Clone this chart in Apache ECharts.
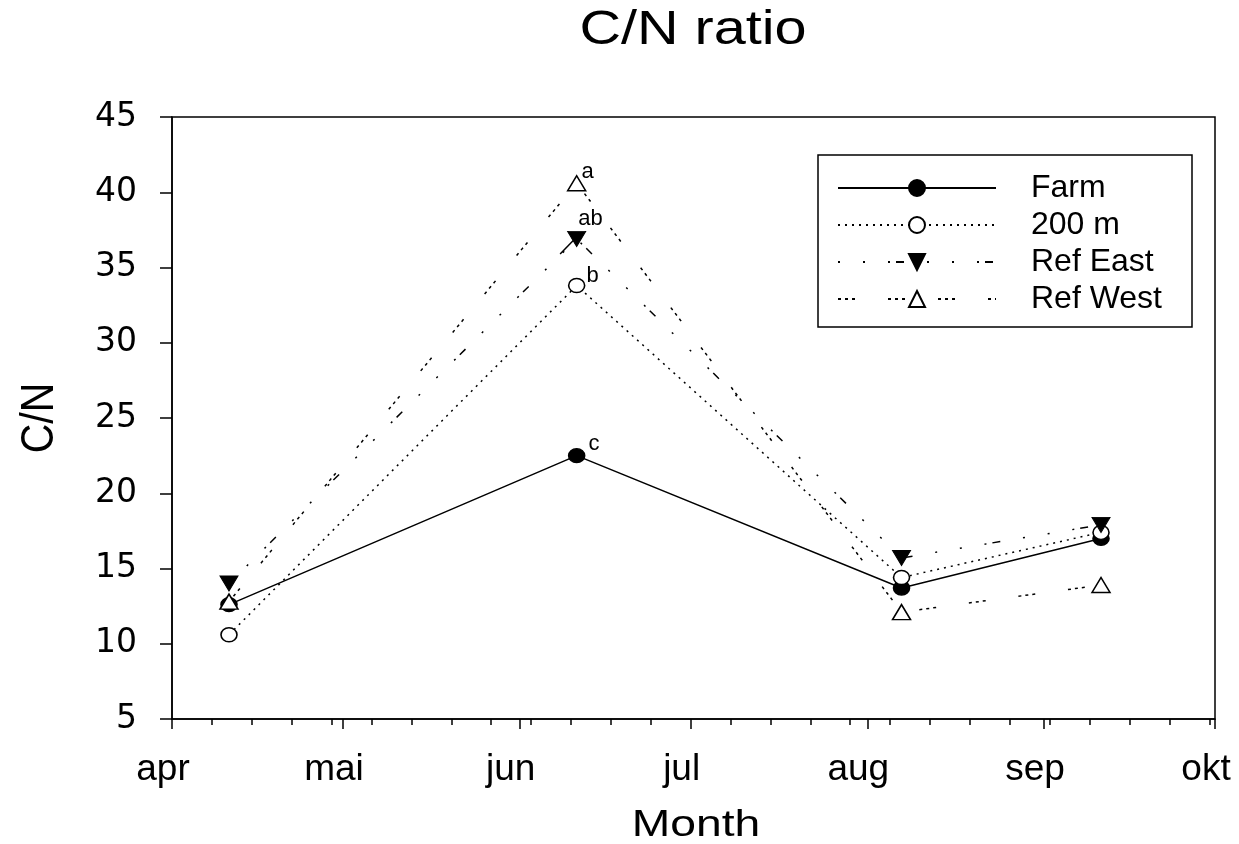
<!DOCTYPE html>
<html>
<head>
<meta charset="utf-8">
<script src="https://cdn.jsdelivr.net/npm/echarts@6/dist/echarts.min.js"></script>
<style>html,body{margin:0;padding:0;background:#fff}#c{width:1239px;height:844px}</style>
</head>
<body>
<div id="c"></div>
<script>
// days since 1 April
const sampleDays = [10, 71, 128, 163];
const farm = [12.6, 22.5, 13.7, 17.0];
const m200 = [10.6, 33.8, 14.4, 17.4];
const refEast = [14.0, 36.9, 15.7, 17.9];
const refWest = [12.8, 40.6, 12.1, 13.9];
const sigLetters = { farm: 'c', m200: 'b', refEast: 'ab', refWest: 'a' };
const monthStarts = [0, 30, 61, 91, 122, 153, 183];
const monthLabels = ['apr', 'mai', 'jun', 'jul', 'aug', 'sep', 'okt'];
const weekTicks = [];
for (let d = 0; d <= 183; d += 7) weekTicks.push(d);
const titleText = 'C/N ratio';
const xName = 'Month';
const yName = 'C/N';

const FONT = 'Liberation Sans, Arial, sans-serif';
const peakIdx = 1;

function mk(vals, letter, off) {
  return vals.map((v, i) => {
    const item = { value: [sampleDays[i], v] };
    if (i === peakIdx) {
      item.label = { show: true, formatter: letter, position: 'right', offset: off,
        color: '#000', fontSize: 22, fontFamily: FONT };
    }
    return item;
  });
}

const chart = echarts.init(document.getElementById('c'), null, { renderer: 'canvas' });
chart.setOption({
  backgroundColor: '#fff',
  animation: false,
  graphic: [
    { type: 'text', x: 693, y: 31, scaleX: 1.2, silent: true,
      style: { text: titleText, fontSize: 48, fontFamily: FONT, fill: '#000', align: 'center', verticalAlign: 'middle' } },
    { type: 'text', x: 696, y: 826, scaleX: 1.25, silent: true,
      style: { text: xName, fontSize: 37, fontFamily: FONT, fill: '#000', align: 'center', verticalAlign: 'middle' } },
    { type: 'text', x: 40, y: 418, rotation: Math.PI / 2, scaleY: 1.12, silent: true,
      style: { text: yName, fontSize: 41, fontFamily: FONT, fill: '#000', align: 'center', verticalAlign: 'middle' } }
  ],
  grid: { left: 172, right: 24, top: 117, bottom: 125, show: true, borderColor: '#000', borderWidth: 1.5, backgroundColor: 'transparent' },
  legend: {
    left: 818, top: 155, orient: 'vertical',
    data: ['Farm', '200 m', 'Ref East', 'Ref West'],
    itemWidth: 158, itemHeight: 20, itemGap: 5,
    padding: [17, 30, 12, 19],
    borderColor: '#000', borderWidth: 1.5,
    textStyle: { fontSize: 32, color: '#000', fontFamily: FONT, lineHeight: 30, padding: [0, 0, 0, 30] },
    selectedMode: false
  },
  xAxis: [
    {
      type: 'value', min: 0, max: 183,
      axisLine: { show: true, lineStyle: { color: '#000', width: 1.5 } },
      axisTick: { show: true, customValues: monthStarts, length: 10, lineStyle: { color: '#000', width: 1.5 } },
      axisLabel: { show: true, customValues: monthStarts, margin: 32, fontSize: 37, color: '#000', fontFamily: FONT,
        padding: [0, 18, 0, 0],
        formatter: v => monthLabels[monthStarts.indexOf(v)] },
      splitLine: { show: false }
    },
    {
      type: 'value', min: 0, max: 183, position: 'bottom',
      axisLine: { show: false },
      axisTick: { show: true, customValues: weekTicks, length: 6, lineStyle: { color: '#000', width: 1.5 } },
      axisLabel: { show: false },
      splitLine: { show: false }
    }
  ],
  yAxis: {
    type: 'value', min: 5, max: 45, interval: 5,
    axisLine: { show: true, lineStyle: { color: '#000', width: 1.5 } },
    axisTick: { show: true, length: 12, lineStyle: { color: '#000', width: 1.5 } },
    axisLabel: { fontSize: 33, color: '#000', margin: 35, fontFamily: 'DejaVu Sans, sans-serif' },
    splitLine: { show: false }
  },
  series: [
    {
      name: 'Farm', type: 'line', data: mk(farm, sigLetters.farm, [-2, -12]),
      symbol: 'circle', symbolSize: [16, 14],
      itemStyle: { color: '#000', borderColor: '#000', borderWidth: 1.5 },
      lineStyle: { color: '#000', width: 1.5, type: 'solid' }
    },
    {
      name: '200 m', type: 'line', data: mk(m200, sigLetters.m200, [-4, -10]),
      symbol: 'circle', symbolSize: [16, 14],
      itemStyle: { color: '#fff', borderColor: '#000', borderWidth: 1.5 },
      lineStyle: { color: '#000', width: 1.5, type: [2, 5] }
    },
    {
      name: 'Ref East', type: 'line', data: mk(refEast, sigLetters.refEast, [-13, -20]),
      symbol: 'path://M0,0 L10,0 L5,8.5 Z', symbolSize: [18, 15],
      itemStyle: { color: '#000', borderColor: '#000', borderWidth: 1 },
      lineStyle: { color: '#000', width: 1.5, type: [2, 23, 2, 23, 2, 6, 8, 23] },
      markLine: {
        silent: true, symbol: ['none', 'none'], animation: false,
        lineStyle: { color: '#000', width: 1.5, type: 'solid' },
        label: { show: false },
        data: [[{ coord: [68.1, 35.9] }, { coord: [70.4, 36.8] }]]
      }
    },
    {
      name: 'Ref West', type: 'line', data: mk(refWest, sigLetters.refWest, [-10, -11]),
      symbol: 'triangle', symbolSize: [18, 15],
      itemStyle: { color: '#fff', borderColor: '#000', borderWidth: 1.5 },
      lineStyle: { color: '#000', width: 1.5, type: [3, 4, 3, 4, 3, 33] }
    }
  ]
});
</script>
</body>
</html>
